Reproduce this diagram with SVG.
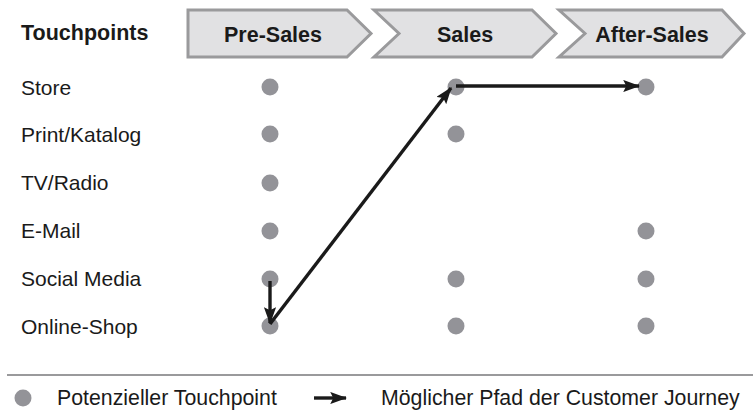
<svg xmlns="http://www.w3.org/2000/svg" width="753" height="416" viewBox="0 0 753 416">
  <style>
    .lbl { font-family: "Liberation Sans", Arial, sans-serif; font-size: 21px; fill: #1a1a1a; }
    .hdr { font-family: "Liberation Sans", Arial, sans-serif; font-size: 21.5px; font-weight: bold; fill: #1a1a1a; }
    .phase { fill: #e1e1e3; stroke: #9a9a9c; stroke-width: 3; stroke-linejoin: miter; }
    .dot { fill: #939398; }
    .path { stroke: #1a1a1a; stroke-width: 3.4; fill: none; marker-end: url(#head); }
  </style>
  <defs>
    <marker id="head" viewBox="0 0 14 10" refX="13" refY="5" markerWidth="5" markerHeight="3.7" markerUnits="strokeWidth" orient="auto">
      <path d="M0,0 L14,5 L0,10 L2.5,5 Z" fill="#1a1a1a"/>
    </marker>
  </defs>
  <rect width="753" height="416" fill="#ffffff"/>

  <!-- header -->
  <text class="hdr" x="21" y="40">Touchpoints</text>
  <g id="phase-presales">
    <polygon class="phase" points="188,10 347,10 371,33.5 347,57 188,57"/>
    <text class="hdr" x="273" y="42" text-anchor="middle">Pre-Sales</text>
  </g>
  <g id="phase-sales">
    <polygon class="phase" points="374,10 532,10 556,33.5 532,57 374,57 399,33.5"/>
    <text class="hdr" x="465" y="42" text-anchor="middle">Sales</text>
  </g>
  <g id="phase-aftersales">
    <polygon class="phase" points="559,10 722,10 744,33.5 722,57 559,57 585,33.5"/>
    <text class="hdr" x="652" y="42" text-anchor="middle">After-Sales</text>
  </g>

  <!-- touchpoint rows -->
  <g id="row-store">
    <text class="lbl" x="21" y="95">Store</text>
    <circle class="dot" cx="270" cy="87" r="8.5"/>
    <circle class="dot" cx="456" cy="87" r="8.5"/>
    <circle class="dot" cx="646" cy="87" r="8.5"/>
  </g>
  <g id="row-print">
    <text class="lbl" x="21" y="142">Print/Katalog</text>
    <circle class="dot" cx="270" cy="134" r="8.5"/>
    <circle class="dot" cx="456" cy="134" r="8.5"/>
  </g>
  <g id="row-tv">
    <text class="lbl" x="21" y="190">TV/Radio</text>
    <circle class="dot" cx="270" cy="183" r="8.5"/>
  </g>
  <g id="row-email">
    <text class="lbl" x="21" y="238">E-Mail</text>
    <circle class="dot" cx="270" cy="231" r="8.5"/>
    <circle class="dot" cx="646" cy="231" r="8.5"/>
  </g>
  <g id="row-social">
    <text class="lbl" x="21" y="286">Social Media</text>
    <circle class="dot" cx="270" cy="279" r="8.5"/>
    <circle class="dot" cx="456" cy="279" r="8.5"/>
    <circle class="dot" cx="646" cy="279" r="8.5"/>
  </g>
  <g id="row-online">
    <text class="lbl" x="21" y="334">Online-Shop</text>
    <circle class="dot" cx="270" cy="326" r="8.5"/>
    <circle class="dot" cx="456" cy="326" r="8.5"/>
    <circle class="dot" cx="646" cy="326" r="8.5"/>
  </g>

  <!-- journey path -->
  <g id="connectors">
    <line class="path" x1="270" y1="281" x2="270" y2="323"/>
    <line class="path" x1="270" y1="324" x2="451" y2="88"/>
    <line class="path" x1="456" y1="86" x2="639" y2="86"/>
  </g>

  <!-- legend -->
  <g id="legend">
    <line x1="7" y1="375" x2="753" y2="375" stroke="#9a9a9c" stroke-width="2"/>
    <circle class="dot" cx="23" cy="398" r="8.5"/>
    <text class="lbl" x="57" y="405" style="font-size:21.3px">Potenzieller Touchpoint</text>
    <line class="path" x1="314" y1="398" x2="346" y2="398"/>
    <text class="lbl" x="381" y="405" style="font-size:21.3px">Möglicher Pfad der Customer Journey</text>
  </g>
</svg>
